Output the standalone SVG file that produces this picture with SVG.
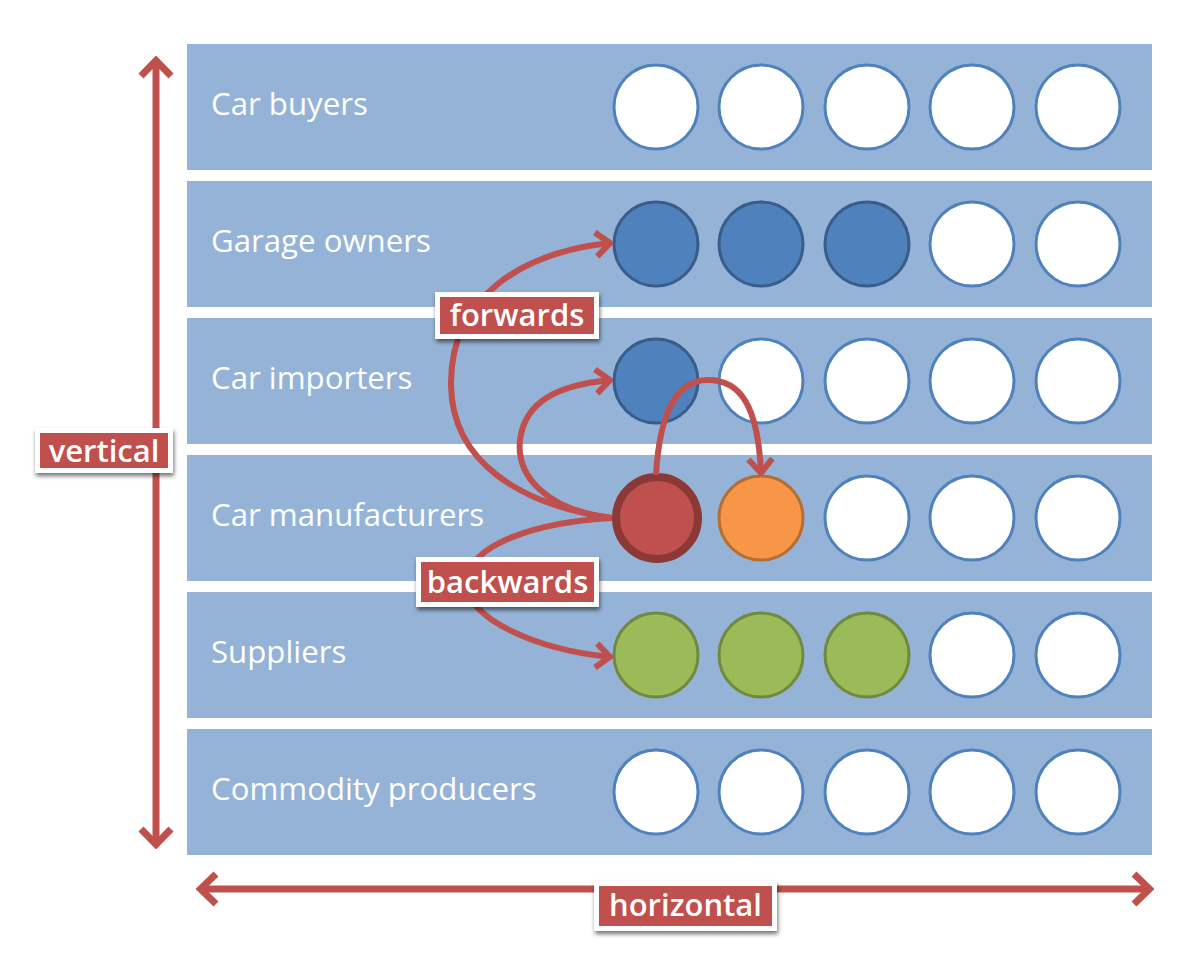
<svg xmlns="http://www.w3.org/2000/svg" width="1200" height="966" viewBox="0 0 1200 966">
<defs>
<filter id="sh" x="-10%" y="-20%" width="130%" height="160%">
<feDropShadow dx="1" dy="3" stdDeviation="2" flood-color="#000" flood-opacity="0.55"/>
</filter>
<marker id="ah" viewBox="0 0 20 30" refX="17" refY="15" markerWidth="20" markerHeight="30" markerUnits="userSpaceOnUse" orient="auto">
<path d="M3 3 L17 15 L3 27" fill="none" stroke="#c0504d" stroke-width="6"/>
</marker>
<marker id="big" viewBox="0 0 24 36" refX="20" refY="18" markerWidth="24" markerHeight="36" markerUnits="userSpaceOnUse" orient="auto-start-reverse">
<path d="M4 3 L19.5 18 L4 33" fill="none" stroke="#c0504d" stroke-width="7"/>
</marker>
</defs>
<style>
.band{fill:#95b3d7}
.rl{font-family:"Open Sans","Noto Sans",sans-serif;font-size:31.2px;fill:#fff}
.w{fill:#fff;stroke:#4f81bd;stroke-width:3}
.b{fill:#4f81bd;stroke:#385d8a;stroke-width:3}
.g{fill:#9bbb59;stroke:#71893f;stroke-width:3}
.o{fill:#f79646;stroke:#b66d31;stroke-width:3}
.r{fill:#c0504d;stroke:#8c3836;stroke-width:8}
.con{fill:none;stroke:#c0504d;stroke-width:6}
.axis{fill:none;stroke:#c0504d;stroke-width:7}
.lbw{fill:#fff}
.lbr{fill:#c0504d}
.lt{font-family:"Open Sans","Noto Sans",sans-serif;font-weight:600;font-size:31px;fill:#fff;text-anchor:middle}
</style>

<g id="row-car-buyers">
<rect class="band" x="187" y="44" width="965" height="126"/>
<text class="rl" x="211" y="115">Car buyers</text>
<circle class="w" cx="656" cy="107" r="42"/><circle class="w" cx="761" cy="107" r="42"/><circle class="w" cx="867" cy="107" r="42"/><circle class="w" cx="972" cy="107" r="42"/><circle class="w" cx="1078" cy="107" r="42"/>
</g>
<g id="row-garage-owners">
<rect class="band" x="187" y="181" width="965" height="126"/>
<text class="rl" x="211" y="252">Garage owners</text>
<circle class="b" cx="656" cy="244" r="42"/><circle class="b" cx="761" cy="244" r="42"/><circle class="b" cx="867" cy="244" r="42"/><circle class="w" cx="972" cy="244" r="42"/><circle class="w" cx="1078" cy="244" r="42"/>
</g>
<g id="row-car-importers">
<rect class="band" x="187" y="318" width="965" height="126"/>
<text class="rl" x="211" y="389">Car importers</text>
<circle class="b" cx="656" cy="381" r="42"/><circle class="w" cx="761" cy="381" r="42"/><circle class="w" cx="867" cy="381" r="42"/><circle class="w" cx="972" cy="381" r="42"/><circle class="w" cx="1078" cy="381" r="42"/>
</g>
<g id="row-car-manufacturers">
<rect class="band" x="187" y="455" width="965" height="126"/>
<text class="rl" x="211" y="526">Car manufacturers</text>
<circle class="r" cx="657" cy="518" r="41"/><circle class="o" cx="761" cy="518" r="42"/><circle class="w" cx="867" cy="518" r="42"/><circle class="w" cx="972" cy="518" r="42"/><circle class="w" cx="1078" cy="518" r="42"/>
</g>
<g id="row-suppliers">
<rect class="band" x="187" y="592" width="965" height="126"/>
<text class="rl" x="211" y="663">Suppliers</text>
<circle class="g" cx="656" cy="655" r="42"/><circle class="g" cx="761" cy="655" r="42"/><circle class="g" cx="867" cy="655" r="42"/><circle class="w" cx="972" cy="655" r="42"/><circle class="w" cx="1078" cy="655" r="42"/>
</g>
<g id="row-commodity-producers">
<rect class="band" x="187" y="729" width="965" height="126"/>
<text class="rl" x="211" y="800">Commodity producers</text>
<circle class="w" cx="656" cy="792" r="42"/><circle class="w" cx="761" cy="792" r="42"/><circle class="w" cx="867" cy="792" r="42"/><circle class="w" cx="972" cy="792" r="42"/><circle class="w" cx="1078" cy="792" r="42"/>
</g>

<g id="connectors">
<path class="con" d="M612 518 C520 505 452 462 451 385 C450 295 525 252 610 243" marker-end="url(#ah)"/>
<path class="con" d="M612 518 C545 510 516 475 520 440 C525 400 560 385 610 380" marker-end="url(#ah)"/>
<path class="con" d="M656 475 C660 405 680 380 708 380 C740 380 758 405 761 473" marker-end="url(#ah)"/>
<path class="con" d="M612 518 C535 522 470 545 467 580 C464 620 540 650 610 657" marker-end="url(#ah)"/>
<path class="axis" d="M156 60 L156 845" marker-start="url(#big)" marker-end="url(#big)"/>
<path class="axis" d="M200 889 L1150 889" marker-start="url(#big)" marker-end="url(#big)"/>
</g>

<g id="label-forwards">
<rect class="lbw" x="435" y="292" width="164" height="47" filter="url(#sh)"/>
<rect class="lbr" x="440" y="297" width="154" height="37"/>
<text class="lt" x="517" y="326">forwards</text>
</g>
<g id="label-backwards">
<rect class="lbw" x="416" y="557" width="183" height="50" filter="url(#sh)"/>
<rect class="lbr" x="421" y="562" width="173" height="40"/>
<text class="lt" x="507.5" y="592.5">backwards</text>
</g>
<g id="label-vertical">
<rect class="lbw" x="35" y="428" width="138" height="45" filter="url(#sh)"/>
<rect class="lbr" x="40" y="433" width="128" height="35"/>
<text class="lt" x="104" y="462">vertical</text>
</g>
<g id="label-horizontal">
<rect class="lbw" x="594" y="881" width="183" height="50" filter="url(#sh)"/>
<rect class="lbr" x="599" y="886" width="173" height="40"/>
<text class="lt" x="685.5" y="916">horizontal</text>
</g>
</svg>
